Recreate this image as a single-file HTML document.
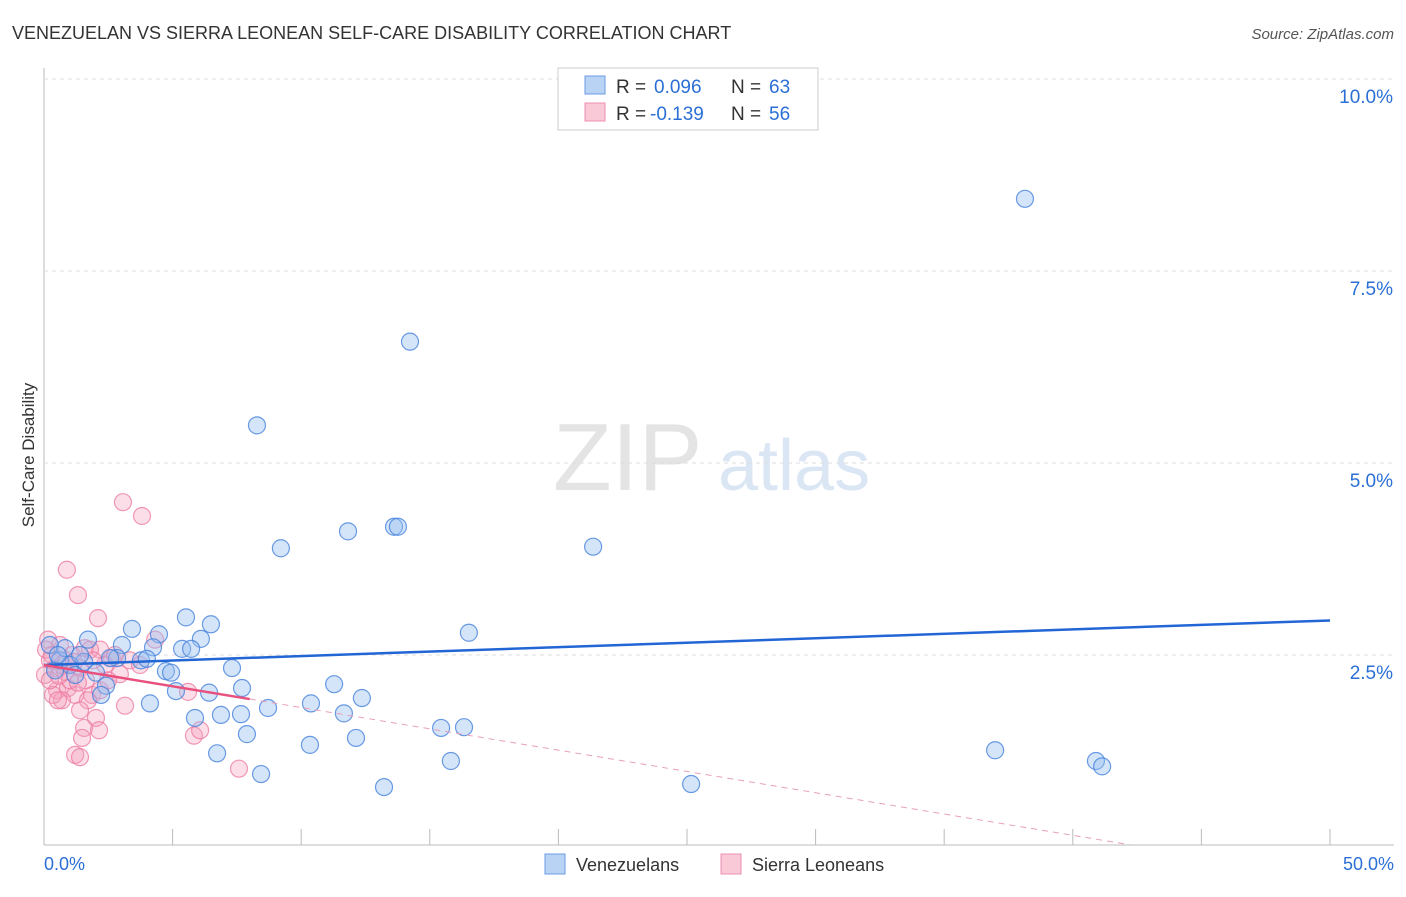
<!DOCTYPE html>
<html><head><meta charset="utf-8"><style>
body{margin:0;background:#fff;font-family:"Liberation Sans",sans-serif;}
svg text{font-family:"Liberation Sans",sans-serif;}
</style></head><body>
<svg id="chart" width="1406" height="892" xmlns="http://www.w3.org/2000/svg">
<text x="12" y="39" font-size="18" fill="#333">VENEZUELAN VS SIERRA LEONEAN SELF-CARE DISABILITY CORRELATION CHART</text>
<text x="1394" y="39" font-size="15" fill="#555" text-anchor="end" font-style="italic">Source: ZipAtlas.com</text>
<text x="553" y="490" font-size="96" fill="#e4e4e4" font-family="Liberation Serif">ZIP</text>
<text x="718" y="490" font-size="72" fill="#dbe6f5">atlas</text>
<text transform="translate(34,455) rotate(-90)" font-size="17" fill="#333" text-anchor="middle">Self-Care Disability</text>
<g id="grid"></g><g id="ticks"></g><g id="pts"></g><g id="lines"></g>
<g>
<rect x="558" y="68" width="260" height="62" fill="#fff" stroke="#ccc"/>
<rect x="585" y="76" width="20" height="18" fill="#b9d3f5" stroke="#6a9be0"/>
<rect x="585" y="103" width="20" height="18" fill="#f9c9d8" stroke="#ee8fb0"/>
<text x="616" y="93" font-size="19" fill="#333">R =</text>
<text x="654" y="93" font-size="19" fill="#2b6fd6">0.096</text>
<text x="731" y="93" font-size="19" fill="#333">N =</text>
<text x="769" y="93" font-size="19" fill="#2b6fd6">63</text>
<text x="616" y="120" font-size="19" fill="#333">R =</text>
<text x="650" y="120" font-size="19" fill="#2b6fd6">-0.139</text>
<text x="731" y="120" font-size="19" fill="#333">N =</text>
<text x="769" y="120" font-size="19" fill="#2b6fd6">56</text>
</g>
<g>
<rect x="545" y="854" width="20" height="20" fill="#b9d3f5" stroke="#6a9be0"/>
<text x="576" y="871" font-size="18" fill="#333">Venezuelans</text>
<rect x="721" y="854" width="20" height="20" fill="#f9c9d8" stroke="#ee8fb0"/>
<text x="752" y="871" font-size="18" fill="#333">Sierra Leoneans</text>
</g>
</svg>
<script>
const xTicks=[0,5,10,15,20,25,30,35,40,45,50];
const yTicks=[2.5,5.0,7.5,10.0];
const blueX=[38.14,14.23,8.28,9.21,11.82,13.61,13.76,21.35,16.52,5.52,6.49,4.47,3.42,3.03,6.10,5.37,5.72,4.24,2.84,3.77,4.00,2.57,7.31,4.74,4.94,1.56,2.02,2.41,2.22,7.70,6.42,5.13,11.28,12.36,10.38,8.71,5.87,6.88,7.66,4.12,11.66,7.89,12.13,15.44,16.33,10.34,6.73,15.82,8.44,13.22,25.16,36.98,40.90,41.14,0.62,1.01,0.43,0.23,0.82,1.40,1.71,1.21,0.54];
const blueY=[8.44,6.58,5.49,3.89,4.11,4.17,4.17,3.91,2.79,2.99,2.90,2.77,2.84,2.63,2.71,2.58,2.58,2.60,2.46,2.43,2.45,2.46,2.33,2.29,2.27,2.41,2.27,2.10,1.98,2.07,2.01,2.03,2.12,1.94,1.87,1.81,1.68,1.72,1.73,1.87,1.74,1.47,1.42,1.55,1.56,1.33,1.22,1.12,0.95,0.78,0.82,1.26,1.12,1.05,2.43,2.37,2.30,2.63,2.59,2.50,2.70,2.24,2.50];
const pinkX=[3.07,3.81,0.89,1.32,2.10,4.32,0.16,0.62,1.59,2.18,2.64,3.34,3.73,1.79,1.09,0.23,0.43,0.82,1.40,2.95,0.51,0.93,1.21,1.87,1.71,0.70,0.35,5.60,2.18,1.40,2.02,1.56,2.14,1.48,1.21,1.40,3.15,5.83,6.07,7.58,0.04,0.23,1.01,0.70,2.37,2.76,0.54,1.63,1.91,0.08,0.31,0.86,1.17,0.58,1.32,2.49];
const pinkY=[4.49,4.31,3.61,3.28,2.98,2.70,2.70,2.63,2.59,2.57,2.46,2.43,2.37,2.57,2.50,2.43,2.33,2.28,2.33,2.25,2.04,2.07,1.98,1.98,1.91,1.91,1.98,2.02,2.04,1.78,1.68,1.55,1.52,1.42,1.20,1.17,1.84,1.45,1.52,1.02,2.24,2.17,2.17,2.37,2.37,2.50,1.91,2.17,2.43,2.57,2.50,2.43,2.41,2.23,2.14,2.17];
const blueTrend=[2.37,2.95];
const pinkTrend=[2.37,0.03];
const NS="http://www.w3.org/2000/svg";
const X=v=>44+v/50*1286, Y=v=>847-v/2.5*192;
function mk(tag,attrs,parent){const e=document.createElementNS(NS,tag);for(const k in attrs)e.setAttribute(k,attrs[k]);document.getElementById(parent).appendChild(e);return e;}
const ax=mk('line',{x1:44,y1:68,x2:44,y2:845,stroke:'#bbb'},'grid');


const bx=mk('line',{x1:44,y1:845,x2:1394,y2:845,stroke:'#bbb'},'grid');


yTicks.forEach(t=>{
 const g=mk('line',{x1:44,y1:Y(t),x2:1394,y2:Y(t),stroke:'#ddd','stroke-dasharray':'4,4'},'grid');
 
 
 const l=mk('text',{x:1393,y:Y(t)+24,'font-size':19,fill:'#2b6fd6','text-anchor':'end'},'ticks');
 l.textContent=t.toFixed(1)+'%';
 
 
});
xTicks.forEach(t=>{
 const k=mk('line',{x1:X(t),y1:829,x2:X(t),y2:845,stroke:'#bbb'},'ticks');
 
 
});
[[0,'start',44],[50,'end',1394]].forEach(([v,a,px])=>{
 const l=mk('text',{x:px,y:870,'font-size':18,fill:'#2b6fd6','text-anchor':a},'ticks');
 l.textContent=v.toFixed(1)+'%';
 
 
});
pinkX.forEach((v,i)=>{
 const c=mk('circle',{cx:X(v),cy:Y(pinkY[i]),r:8.5,fill:'rgba(244,160,188,0.35)',stroke:'rgba(236,120,160,0.75)','stroke-width':1.2},'pts');
 
 
});
blueX.forEach((v,i)=>{
 const c=mk('circle',{cx:X(v),cy:Y(blueY[i]),r:8.5,fill:'rgba(150,190,240,0.4)',stroke:'rgba(70,130,220,0.8)','stroke-width':1.2},'pts');
 
 
});
const bt=mk('line',{x1:X(0),y1:Y(blueTrend[0]),x2:X(50),y2:Y(blueTrend[1]),stroke:'#2266d6','stroke-width':2.5},'lines');


const pEnd=42.2;
const pAt=x=>pinkTrend[0]+(pinkTrend[1]-pinkTrend[0])*x/pEnd;
const ps=mk('line',{x1:X(0),y1:Y(pAt(0)),x2:X(8),y2:Y(pAt(8)),stroke:'#e8507e','stroke-width':2.5},'lines');


const pd=mk('line',{x1:X(8),y1:Y(pAt(8)),x2:X(pEnd),y2:Y(pAt(pEnd)),stroke:'#e8a0b8','stroke-width':1,'stroke-dasharray':'6,5'},'lines');


</script>
</body></html>
